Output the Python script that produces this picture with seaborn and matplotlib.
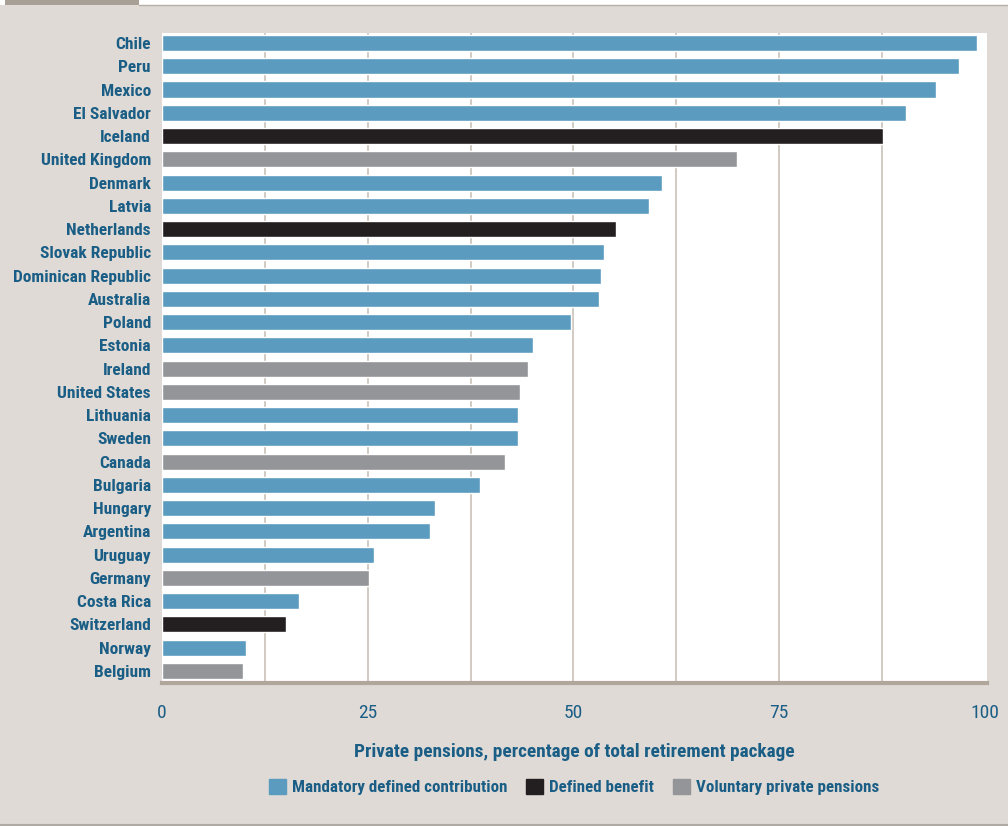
import matplotlib
matplotlib.use("Agg")
import matplotlib.pyplot as plt
import matplotlib.patches as mpatches
from matplotlib import font_manager
from matplotlib.font_manager import FontProperties
import seaborn as sns
import pandas as pd

countries = ["Chile", "Peru", "Mexico", "El Salvador", "Iceland", "United Kingdom",
             "Denmark", "Latvia", "Netherlands", "Slovak Republic", "Dominican Republic",
             "Australia", "Poland", "Estonia", "Ireland", "United States", "Lithuania",
             "Sweden", "Canada", "Bulgaria", "Hungary", "Argentina", "Uruguay", "Germany",
             "Costa Rica", "Switzerland", "Norway", "Belgium"]
values = [99.0, 96.8, 94.0, 90.4, 87.6, 69.9, 60.8, 59.2, 55.2, 53.7, 53.3, 53.1, 49.7,
          45.1, 44.5, 43.5, 43.3, 43.3, 41.7, 38.6, 33.2, 32.6, 25.8, 25.2, 16.6, 15.1,
          10.2, 9.8]
M, D, V = "Mandatory defined contribution", "Defined benefit", "Voluntary private pensions"
types = [M, M, M, M, D, V, M, M, D, M, M, M, M, M, V, V, M, M, V, M, M, M, M, V, M, D, M, V]
type_order = [M, D, V]
type_colors = ["#5b9bbf", "#231f20", "#939598"]
x_tick_labels = ["0", "", "25", "", "50", "", "75", "", "100"]
x_label = "Private pensions, percentage of total retirement package"

df = pd.DataFrame({"country": countries, "value": values, "type": types})

sns.set_style("white")

# choose the narrowest available family
names = {f.name for f in font_manager.fontManager.ttflist}
fam = None
stretch = "normal"
for cand in ["Liberation Sans Narrow", "Roboto Condensed", "Open Sans Condensed"]:
    if cand in names:
        fam = cand
        break
if fam is None:
    p = font_manager.findfont(FontProperties(family="DejaVu Sans", stretch="condensed",
                                             weight="bold"), fallback_to_default=False)
    if "Condensed" in p:
        fam, stretch = "DejaVu Sans", "condensed"
    elif "Roboto" in names:
        fam = "Roboto"
    else:
        fam = "DejaVu Sans"
plt.rcParams["font.family"] = [fam, "DejaVu Sans"]
plt.rcParams["font.stretch"] = stretch
txt = "#1a5e86"
bg = "#dfdad6"

fig = plt.figure(figsize=(10.08, 8.26), dpi=100, facecolor=bg)
renderer = fig.canvas.get_renderer()


def fit_size(s, target_px, weight="bold"):
    t = fig.text(0, 0, s, fontsize=10, fontweight=weight)
    w = t.get_window_extent(renderer).width
    t.remove()
    return 10 * target_px / w


ysize = fit_size("Dominican Republic", 138)
xlsize = fit_size(x_label, 440)
legsize = fit_size("Mandatory defined contribution", 215)
ticksize = 14

ax = fig.add_axes([162/1008, 1-683/826, (987-162)/1008, (683-33)/826])
ax.set_facecolor("white")

pal = dict(zip(type_order, type_colors))
sns.barplot(data=df, y="country", x="value", hue="type", hue_order=type_order,
            order=countries, palette=pal, dodge=False, width=0.69, ax=ax,
            legend=False, saturation=1, zorder=3)

ax.set_xlim(0, 100.25)
ax.set_ylim(27.52, -0.43)
ax.set_xticks([i * 12.5 for i in range(9)])
ax.set_xticklabels(x_tick_labels)
ax.grid(axis="x", color="#c9c1b9", linewidth=1.2, zorder=0)
ax.grid(axis="y", visible=False)
gl = ax.xaxis.get_gridlines()
gl[0].set_visible(False)
gl[-1].set_visible(False)
for s in ["top", "right", "left"]:
    ax.spines[s].set_visible(False)
ax.spines["bottom"].set_color("#b0a69c")
ax.spines["bottom"].set_linewidth(3)
ax.tick_params(axis="x", length=10, width=1.5, color="#b0a69c", labelcolor=txt,
               labelsize=ticksize, pad=5)
ax.tick_params(axis="y", length=0, labelsize=ysize, labelcolor=txt, pad=8)
for lab in ax.get_yticklabels():
    lab.set_fontweight("bold")
ax.set_ylabel("")
ax.set_xlabel(x_label, fontsize=xlsize, fontweight="bold", color=txt, labelpad=15)

handles = [mpatches.Patch(color=c, label=l) for l, c in zip(type_order, type_colors)]
leg = fig.legend(handles=handles, loc="center", bbox_to_anchor=(574/1008, 1-787/826),
                 ncol=3, frameon=False, fontsize=legsize, handlelength=1.0,
                 handleheight=1.0, handletextpad=0.35, columnspacing=1.1)
for t in leg.get_texts():
    t.set_color(txt)
    t.set_fontweight("bold")

# decorative frame
fig.patches.append(mpatches.Rectangle((0, 1-5/826), 1, 5/826, transform=fig.transFigure,
                                      facecolor="white", edgecolor="none", zorder=0))
fig.patches.append(mpatches.Rectangle((5/1008, 1-5/826), 134/1008, 5/826,
                                      transform=fig.transFigure, facecolor="#a89f96",
                                      edgecolor="none", zorder=1))
fig.lines.append(plt.Line2D([139/1008, 1], [1-4.5/826, 1-4.5/826], transform=fig.transFigure,
                            color="#b8b0a8", linewidth=1))
fig.lines.append(plt.Line2D([0, 1], [1-825/826, 1-825/826], transform=fig.transFigure,
                            color="#b0aaa4", linewidth=1.5))

fig.savefig("out.png", dpi=100, facecolor=bg)
